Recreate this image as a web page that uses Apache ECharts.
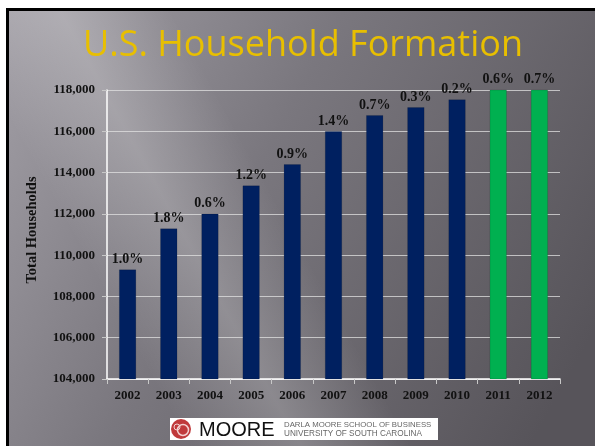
<!DOCTYPE html>
<html>
<head>
<meta charset="utf-8">
<script src="https://cdn.jsdelivr.net/npm/echarts@6/dist/echarts.min.js"></script>
<style>
html,body{margin:0;padding:0;background:#fff;}
#main{width:595px;height:446px;}
</style>
</head>
<body>
<div id="main"></div>
<script>
// ---- data ----
var years = ['2002','2003','2004','2005','2006','2007','2008','2009','2010','2011','2012'];
var households = [109300, 111290, 112000, 113370, 114400, 116000, 116780, 117160, 117540, 118200, 119000];
var growth = ['1.0%','1.8%','0.6%','1.2%','0.9%','1.4%','0.7%','0.3%','0.2%','0.6%','0.7%'];
var projected = [false,false,false,false,false,false,false,false,false,true,true];
var yTicks = {min:104000, max:118000, interval:2000};

var chart = echarts.init(document.getElementById('main'), null, {renderer:'canvas'});

var serif = '"Liberation Serif", "Times New Roman", serif';
var barData = households.map(function(v,i){
  return {
    value: v,
    itemStyle: { color: projected[i] ? '#00b050' : '#002060' }
  };
});

var option = {
  backgroundColor: '#ffffff',
  animation: false,
  graphic: [
    { type:'rect', z:-10, shape:{x:6,y:8,width:589,height:438},
      style:{ fill:{ type:'linear', global:true, x:0, y:0, x2:595, y2:330,
        colorStops:[{offset:0,color:'#a4a1a8'},{offset:0.45,color:'#7a777e'},{offset:1,color:'#57545a'}]}} },
    { type:'rect', z:-9, shape:{x:6,y:8,width:589,height:438},
      style:{ fill:{ type:'linear', global:true, x:95, y:275, x2:265, y2:181,
        colorStops:[{offset:0,color:'rgba(255,255,255,0)'},{offset:0.5,color:'rgba(255,255,255,0.2)'},{offset:1,color:'rgba(255,255,255,0)'}]}} },
    { type:'rect', z:-8, shape:{x:6,y:8,width:589,height:3}, style:{fill:'#000'} },
    { type:'rect', z:-8, shape:{x:6,y:8,width:3,height:438}, style:{fill:'#000'} },
    { type:'text', x:303, y:28,
      style:{ text:'U.S. Household Formation', fill:'#e8bf00', font:'36px "Open Sans", sans-serif', textAlign:'center',
        shadowColor:'rgba(0,0,0,0.35)', shadowBlur:2, shadowOffsetX:1, shadowOffsetY:1 } },
    // logo
    { type:'rect', shape:{x:170,y:418,width:268,height:22}, style:{fill:'#ffffff'} },
    { type:'circle', shape:{cx:181,cy:429,r:10}, style:{fill:'#c0393b'} },
    { type:'circle', shape:{cx:183,cy:430,r:5.5}, style:{fill:'none', stroke:'#f3d0d0', lineWidth:1.5} },
    { type:'circle', shape:{cx:177,cy:427,r:3}, style:{fill:'none', stroke:'#f3d0d0', lineWidth:1} },
    { type:'text', x:199, y:430, style:{ text:'MOORE', fill:'#111', font:'20px "Liberation Sans", sans-serif', verticalAlign:'middle' } },
    { type:'text', x:284, y:425, style:{ text:'DARLA MOORE SCHOOL OF BUSINESS', fill:'#666', font:'7.8px "Liberation Sans", sans-serif', verticalAlign:'middle' } },
    { type:'text', x:284, y:434, style:{ text:'UNIVERSITY OF SOUTH CAROLINA', fill:'#666', font:'8.2px "Liberation Sans", sans-serif', verticalAlign:'middle' } }
  ],
  grid: { left:107, right:35, top:90, bottom:67 },
  xAxis: {
    type:'category',
    data: years,
    boundaryGap: true,
    axisLine:{ show:true, lineStyle:{ color:'#ffffff', width:1.5 } },
    axisTick:{ show:true, length:5, lineStyle:{ color:'#c8c8c8' } },
    axisLabel:{ color:'#111', fontFamily:serif, fontWeight:'bold', fontSize:13, margin:10 },
    splitLine:{ show:false }
  },
  yAxis: {
    type:'value',
    min: yTicks.min, max: yTicks.max, interval: yTicks.interval,
    name:'Total Households',
    nameLocation:'middle',
    nameGap:67,
    nameTextStyle:{ color:'#111', fontFamily:serif, fontWeight:'bold', fontSize:14.5, padding:[0,0,0,9] },
    axisLine:{ show:true, lineStyle:{ color:'#ffffff', width:1.5 } },
    axisTick:{ show:true, length:5, lineStyle:{ color:'#c8c8c8' } },
    axisLabel:{ color:'#111', fontFamily:serif, fontWeight:'bold', fontSize:13, margin:12,
      formatter:function(v){ return v.toLocaleString('en-US'); } },
    splitLine:{ show:true, lineStyle:{ color:'rgba(225,225,225,0.75)', width:1 } }
  },
  series: [{
    type:'bar',
    data: barData,
    barWidth: 17,
    clip: true,
    itemStyle:{ borderColor:'rgba(0,0,0,0.25)', borderWidth:0.5 },
    label:{ show:true, position:'top', distance:3, color:'#111', fontFamily:serif, fontWeight:'bold', fontSize:14,
      formatter:function(p){ return growth[p.dataIndex]; } }
  }]
};
chart.setOption(option);
</script>
</body>
</html>
